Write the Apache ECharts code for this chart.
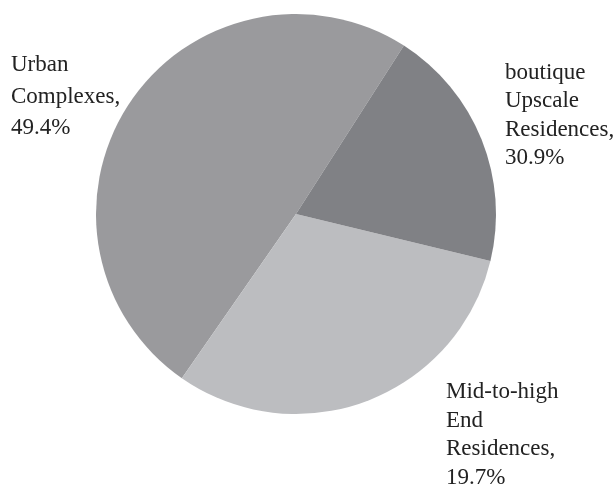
<!DOCTYPE html>
<html>
<head>
<meta charset="utf-8">
<script src="https://cdn.jsdelivr.net/npm/echarts@6/dist/echarts.min.js"></script>
<style>
  html, body { margin: 0; padding: 0; background: #ffffff; }
  #chart { width: 615px; height: 501px; }
</style>
</head>
<body>
<div id="chart"></div>
<script>
// Data as printed in the reference
const categories = ['Urban Complexes', 'boutique Upscale Residences', 'Mid-to-high End Residences'];
const shares = [49.4, 30.9, 19.7];
// Slice colours in data order
const colors = ['#9a9a9d', '#bcbdc0', '#808185'];
// The reference prints, next to each slice, the label of this category
const labelOf = [0, 2, 1];

// label text-block placement (layout style, per slice): left edge, vertical middle, line height
const labelLayoutStyle = [
  { x: 11, y: 96.5, lh: 31.5 },
  { x: 446, y: 435, lh: 28.7 },
  { x: 505, y: 115.5, lh: 28.5 }
];

const FONT = 'Liberation Serif';

const richStyles = {};
labelLayoutStyle.forEach((s, i) => {
  richStyles['t' + i] = {
    align: 'left',
    color: '#222222',
    fontFamily: FONT,
    fontSize: 23,
    lineHeight: s.lh
  };
});

const chart = echarts.init(document.getElementById('chart'), null, { renderer: 'canvas' });

const data = categories.map((c, i) => ({
  name: c,
  value: shares[i],
  itemStyle: { color: colors[i] }
}));

chart.setOption({
  animation: false,
  backgroundColor: '#ffffff',
  textStyle: { fontFamily: FONT },
  series: [{
    type: 'pie',
    center: [296, 214],
    radius: [0, 200],
    startAngle: 57.35,
    clockwise: false,
    avoidLabelOverlap: false,
    silent: true,
    itemStyle: { borderWidth: 0 },
    emphasis: { disabled: true },
    labelLine: { show: false },
    label: {
      show: true,
      position: 'outside',
      bleedMargin: 0,
      color: '#222222',
      fontFamily: FONT,
      fontSize: 23,
      formatter: function (p) {
        const k = labelOf[p.dataIndex];
        const txt = categories[k] + ', ' + shares[k].toFixed(1) + '%';
        const st = 't' + p.dataIndex;
        return txt.split(' ').map(w => '{' + st + '|' + w + '}').join('\n');
      },
      rich: richStyles
    },
    labelLayout: function (params) {
      const s = labelLayoutStyle[params.dataIndex];
      return { x: s.x, y: s.y, align: 'left', verticalAlign: 'middle' };
    },
    data: data
  }]
});
</script>
</body>
</html>
